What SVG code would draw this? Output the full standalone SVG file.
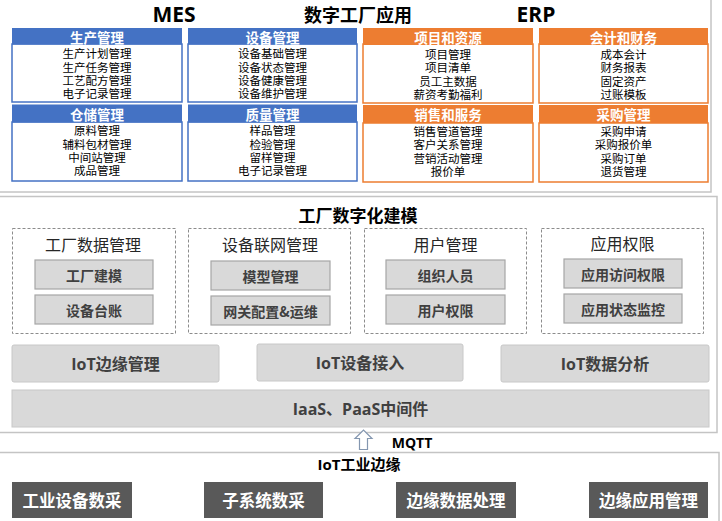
<svg xmlns="http://www.w3.org/2000/svg" width="722" height="521" viewBox="0 0 722 521">
<style>
text{font-family:"Noto Sans CJK SC","Noto Sans",sans-serif;text-anchor:middle;dominant-baseline:central}
.panel{fill:#fff;stroke:#c4c4c4;stroke-width:1.5}
.big{font-family:"Open Sans","Noto Sans CJK SC",sans-serif;font-weight:bold;font-size:21px;fill:#000}
.ttl{font-weight:bold;font-size:17px;fill:#000}
.bh{fill:#4472C4}
.bb{fill:#fff;stroke:#4472C4;stroke-width:1.5}
.oh{fill:#ED7D31}
.ob{fill:#fff;stroke:#ED7D31;stroke-width:1.5}
.ht{font-weight:bold;font-size:13.5px;fill:#fff}
.it{font-size:11.5px;fill:#000}
.dash{fill:none;stroke:#8c8c8c;stroke-width:1;stroke-dasharray:3,2}
.dt{font-size:16px;fill:#262626}
.gb{fill:#d9d9d9;stroke:#a6a6a6;stroke-width:1.2}
.gt{font-weight:bold;font-size:14px;fill:#404040}
.lb{fill:#d9d9d9;stroke:#c8c8c8;stroke-width:1}
.lt{font-family:"Open Sans","Noto Sans CJK SC",sans-serif;font-weight:bold;font-size:16px;fill:#404040}
.db{fill:#595959}
.dtx{font-weight:bold;font-size:16.5px;fill:#fff}
</style>
<g id="panels">
<rect class="panel" x="-2" y="-2" width="713" height="194"/>
<rect class="panel" x="-2" y="196.5" width="719" height="236"/>
<rect class="panel" x="-2" y="452.5" width="721" height="80"/>
</g>
<g id="titles">
<text class="big" x="174" y="14">MES</text>
<text class="ttl" x="358" y="14" style="font-size:18px">数字工厂应用</text>
<text class="big" x="536" y="14">ERP</text>
</g>
<g id="mes-prod">
<rect class="bb" x="12" y="44" width="170" height="58"/>
<rect class="bh" x="12" y="28" width="170" height="16.5"/>
<text class="ht" x="97" y="36.5">生产管理</text>
<text class="it" x="97" y="53">生产计划管理</text>
<text class="it" x="97" y="66.5">生产任务管理</text>
<text class="it" x="97" y="80">工艺配方管理</text>
<text class="it" x="97" y="93">电子记录管理</text>
</g>
<g id="mes-equip">
<rect class="bb" x="188" y="44" width="169" height="58"/>
<rect class="bh" x="188" y="28" width="169" height="16.5"/>
<text class="ht" x="272.5" y="36.5">设备管理</text>
<text class="it" x="272.5" y="53">设备基础管理</text>
<text class="it" x="272.5" y="66.5">设备状态管理</text>
<text class="it" x="272.5" y="80">设备健康管理</text>
<text class="it" x="272.5" y="93">设备维护管理</text>
</g>
<g id="mes-store">
<rect class="bb" x="12" y="122" width="170" height="59"/>
<rect class="bh" x="12" y="104.5" width="170" height="18"/>
<text class="ht" x="97" y="113.5">仓储管理</text>
<text class="it" x="97" y="130">原料管理</text>
<text class="it" x="97" y="143.5">辅料包材管理</text>
<text class="it" x="97" y="157">中间站管理</text>
<text class="it" x="97" y="170">成品管理</text>
</g>
<g id="mes-quality">
<rect class="bb" x="188" y="122" width="169" height="59"/>
<rect class="bh" x="188" y="104.5" width="169" height="18"/>
<text class="ht" x="272.5" y="113.5">质量管理</text>
<text class="it" x="272.5" y="130">样品管理</text>
<text class="it" x="272.5" y="143.5">检验管理</text>
<text class="it" x="272.5" y="157">留样管理</text>
<text class="it" x="272.5" y="170">电子记录管理</text>
</g>
<g id="erp-project">
<rect class="ob" x="363" y="44" width="170" height="59"/>
<rect class="oh" x="363" y="28" width="170" height="17"/>
<text class="ht" x="448" y="36.5">项目和资源</text>
<text class="it" x="448" y="53.5">项目管理</text>
<text class="it" x="448" y="67">项目清单</text>
<text class="it" x="448" y="80.5">员工主数据</text>
<text class="it" x="448" y="93.5">薪资考勤福利</text>
</g>
<g id="erp-finance">
<rect class="ob" x="539" y="44" width="169" height="59"/>
<rect class="oh" x="539" y="28" width="169" height="17"/>
<text class="ht" x="623.5" y="36.5">会计和财务</text>
<text class="it" x="623.5" y="53.5">成本会计</text>
<text class="it" x="623.5" y="67">财务报表</text>
<text class="it" x="623.5" y="80.5">固定资产</text>
<text class="it" x="623.5" y="93.5">过账模板</text>
</g>
<g id="erp-sales">
<rect class="ob" x="363" y="123" width="170" height="59"/>
<rect class="oh" x="363" y="105" width="170" height="18"/>
<text class="ht" x="448" y="114">销售和服务</text>
<text class="it" x="448" y="130.5">销售管道管理</text>
<text class="it" x="448" y="144">客户关系管理</text>
<text class="it" x="448" y="157.5">营销活动管理</text>
<text class="it" x="448" y="170.5">报价单</text>
</g>
<g id="erp-purchase">
<rect class="ob" x="539" y="123" width="169" height="59"/>
<rect class="oh" x="539" y="105" width="169" height="18"/>
<text class="ht" x="623.5" y="114">采购管理</text>
<text class="it" x="623.5" y="130.5">采购申请</text>
<text class="it" x="623.5" y="144">采购报价单</text>
<text class="it" x="623.5" y="157.5">采购订单</text>
<text class="it" x="623.5" y="170.5">退货管理</text>
</g>
<g id="modeling-title">
<text class="ttl" x="358" y="214">工厂数字化建模</text>
</g>
<g id="factory-data">
<rect class="dash" x="12.5" y="228.5" width="163" height="105"/>
<text class="dt" x="93" y="244">工厂数据管理</text>
<rect class="gb" x="35" y="260" width="118" height="29"/>
<text class="gt" x="94" y="274.5">工厂建模</text>
<rect class="gb" x="35" y="295" width="118" height="29"/>
<text class="gt" x="94" y="309.5">设备台账</text>
</g>
<g id="device-network">
<rect class="dash" x="188.5" y="228.5" width="162" height="105"/>
<text class="dt" x="270" y="244">设备联网管理</text>
<rect class="gb" x="211" y="261" width="119" height="29"/>
<text class="gt" x="270.5" y="275.5">模型管理</text>
<rect class="gb" x="211" y="296" width="119" height="29"/>
<text class="gt" x="270.5" y="310.5">网关配置&amp;运维</text>
</g>
<g id="user-mgmt">
<rect class="dash" x="364.5" y="228.5" width="162" height="105"/>
<text class="dt" x="445.5" y="244">用户管理</text>
<rect class="gb" x="386" y="260" width="119" height="29"/>
<text class="gt" x="445.5" y="274.5">组织人员</text>
<rect class="gb" x="386" y="295" width="119" height="29"/>
<text class="gt" x="445.5" y="309.5">用户权限</text>
</g>
<g id="app-perm">
<rect class="dash" x="541.5" y="228.5" width="162" height="105"/>
<text class="dt" x="622.5" y="243">应用权限</text>
<rect class="gb" x="564" y="259" width="118" height="29"/>
<text class="gt" x="623" y="273.5">应用访问权限</text>
<rect class="gb" x="564" y="294" width="118" height="29"/>
<text class="gt" x="623" y="308.5">应用状态监控</text>
</g>
<g id="iot-edge-mgmt">
<rect class="lb" x="12" y="345" width="207" height="37" rx="2"/>
<text class="lt" x="115.5" y="363.5">IoT边缘管理</text>
</g>
<g id="iot-access">
<rect class="lb" x="257" y="344" width="206" height="37" rx="2"/>
<text class="lt" x="360" y="362.5">IoT设备接入</text>
</g>
<g id="iot-analysis">
<rect class="lb" x="501" y="345" width="208" height="37" rx="2"/>
<text class="lt" x="605" y="363.5">IoT数据分析</text>
</g>
<g id="middleware">
<rect class="lb" x="12" y="390" width="697" height="37"/>
<text class="lt" x="360.5" y="408.5">IaaS、PaaS中间件</text>
</g>
<g id="connectors">
<path d="M359.5,449.5 V438.5 H355 L363.5,430 L372,438.5 H367.5 V449.5 Z" fill="#fff" stroke="#8497b0" stroke-width="1.2"/>
<text x="412" y="442" style="font-family:'Open Sans','Noto Sans CJK SC',sans-serif;font-weight:bold;font-size:14px;fill:#000">MQTT</text>
</g>
<g id="edge-title">
<text x="359" y="464" style="font-family:'Open Sans','Noto Sans CJK SC',sans-serif;font-weight:bold;font-size:15px;fill:#000">IoT工业边缘</text>
</g>
<g id="edge-collect">
<rect class="db" x="12" y="482" width="120" height="36"/>
<text class="dtx" x="72" y="500">工业设备数采</text>
</g>
<g id="subsystem-collect">
<rect class="db" x="204" y="482" width="119" height="36"/>
<text class="dtx" x="263.5" y="500">子系统数采</text>
</g>
<g id="edge-process">
<rect class="db" x="396" y="482" width="120" height="36"/>
<text class="dtx" x="456" y="500">边缘数据处理</text>
</g>
<g id="edge-app">
<rect class="db" x="589" y="482" width="119" height="36"/>
<text class="dtx" x="648.5" y="500">边缘应用管理</text>
</g>
</svg>
